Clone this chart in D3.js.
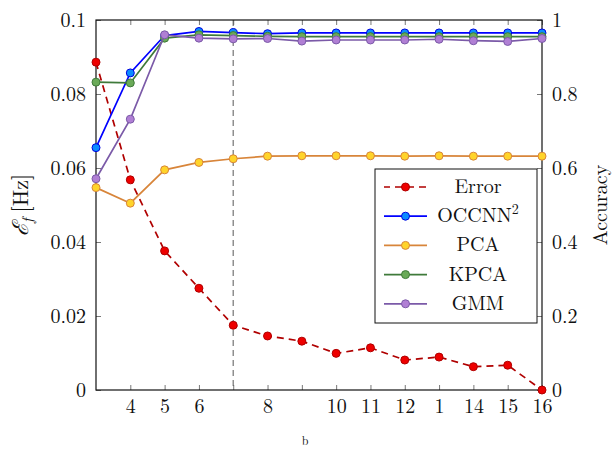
<!DOCTYPE html>
<html>
<head>
<meta charset="utf-8">
<script src="https://cdn.jsdelivr.net/npm/d3@7"></script>
<style>
  body { margin: 0; background: #fff; }
  text { font-family: "Latin Modern Roman", "Liberation Serif", "DejaVu Serif", serif; fill: #111; }
</style>
</head>
<body>
<svg id="chart"></svg>
<script>
const xs = [3, 4, 5, 6, 7, 8, 9, 10, 11, 12, 13, 14, 15, 16];
const xTickValues = [4, 5, 6, 7, 8, 9, 10, 11, 12, 13, 14, 15, 16];
const xTickLabels = ["4", "5", "6", "", "8", "", "10", "11", "12", "1", "14", "15", "16"];
const leftTicks = [0, 0.02, 0.04, 0.06, 0.08, 0.1];
const rightTicks = [0, 0.2, 0.4, 0.6, 0.8, 1];

const errorVals = [0.0886, 0.0568, 0.0376, 0.0275, 0.0175, 0.0146, 0.0132, 0.0099, 0.0114, 0.0081, 0.0089, 0.0063, 0.0067, 0];
const occnnVals = [0.655, 0.857, 0.958, 0.969, 0.966, 0.963, 0.965, 0.965, 0.965, 0.965, 0.965, 0.965, 0.965, 0.965];
const pcaVals = [0.547, 0.505, 0.595, 0.615, 0.625, 0.632, 0.633, 0.633, 0.633, 0.632, 0.633, 0.632, 0.632, 0.632];
const kpcaVals = [0.832, 0.830, 0.951, 0.960, 0.958, 0.956, 0.955, 0.955, 0.955, 0.955, 0.955, 0.955, 0.955, 0.955];
const gmmVals = [0.571, 0.732, 0.960, 0.951, 0.949, 0.950, 0.943, 0.946, 0.946, 0.946, 0.948, 0.944, 0.942, 0.950];
const markerX = 7;

const width = 615, height = 453;
const margin = { top: 20, right: 73, bottom: 63, left: 96 };
const w = width - margin.left - margin.right;
const h = height - margin.top - margin.bottom;

const svg = d3.select("#chart").attr("width", width).attr("height", height);
const g = svg.append("g").attr("transform", `translate(${margin.left},${margin.top})`);

const x = d3.scaleLinear().domain([3, 16]).range([0, w]);
const yL = d3.scaleLinear().domain([0, 0.1]).range([h, 0]);
const yR = d3.scaleLinear().domain([0, 1]).range([h, 0]);

// vertical dashed marker
g.append("line")
  .attr("x1", x(markerX)).attr("x2", x(markerX))
  .attr("y1", 0).attr("y2", h)
  .attr("stroke", "#888").attr("stroke-width", 1.4)
  .attr("stroke-dasharray", "6,4");

// axes (ticks inside, mirrored)
const tickStyle = sel => {
  sel.select(".domain").remove();
  sel.selectAll(".tick line").attr("stroke", "#555").attr("stroke-width", 0.8);
  sel.selectAll(".tick text").style("font-size", "20px").attr("fill", "#111");
};

g.append("g").attr("transform", `translate(0,${h})`)
  .call(d3.axisBottom(x).tickValues(xTickValues)
    .tickFormat((d, i) => xTickLabels[i]).tickSizeInner(-5).tickSizeOuter(0).tickPadding(9))
  .call(tickStyle);
g.append("g")
  .call(d3.axisTop(x).tickValues(xTickValues).tickFormat("").tickSizeInner(-5).tickSizeOuter(0))
  .call(tickStyle);
g.append("g")
  .call(d3.axisLeft(yL).tickValues(leftTicks).tickFormat(d => d === 0 ? "0" : d3.format("")(+d.toFixed(2)))
    .tickSizeInner(-5).tickSizeOuter(0).tickPadding(10))
  .call(tickStyle);
g.append("g").attr("transform", `translate(${w},0)`)
  .call(d3.axisRight(yR).tickValues(rightTicks).tickFormat(d => d === 0 ? "0" : d === 1 ? "1" : d3.format("")(+d.toFixed(1)))
    .tickSizeInner(-5).tickSizeOuter(0).tickPadding(10))
  .call(tickStyle);

// frame
g.append("rect").attr("width", w).attr("height", h)
  .attr("fill", "none").attr("stroke", "#111").attr("stroke-width", 1.2);

const series = [
  { name: "Error", vals: errorVals, y: yL, line: "#b00000", fill: "#ee0000", stroke: "#b00000", dash: "7,5" },
  { name: "OCCNN", vals: occnnVals, y: yR, line: "#0000ff", fill: "#0a8cff", stroke: "#0000e0", dash: null },
  { name: "PCA", vals: pcaVals, y: yR, line: "#d8853a", fill: "#ffd42a", stroke: "#d8853a", dash: null },
  { name: "KPCA", vals: kpcaVals, y: yR, line: "#3f7a3a", fill: "#6aaa58", stroke: "#3f7a3a", dash: null },
  { name: "GMM", vals: gmmVals, y: yR, line: "#7b5aa8", fill: "#b07fd4", stroke: "#7b5aa8", dash: null }
];

// draw in order so Error sits under, GMM on top
const drawOrder = [0, 2, 1, 3, 4];
drawOrder.forEach(k => {
  const s = series[k];
  const pts = xs.map((xv, i) => [xv, s.vals[i]]);
  g.append("path").datum(pts)
    .attr("fill", "none").attr("stroke", s.line).attr("stroke-width", 1.7)
    .attr("stroke-dasharray", s.dash)
    .attr("d", d3.line().x(d => x(d[0])).y(d => s.y(d[1])));
  g.append("g").selectAll("circle").data(pts).enter().append("circle")
    .attr("cx", d => x(d[0])).attr("cy", d => s.y(d[1])).attr("r", 4)
    .attr("fill", s.fill).attr("stroke", s.stroke).attr("stroke-width", 1);
});

// legend
const lg = svg.append("g").attr("transform", "translate(375,169)");
lg.append("rect").attr("width", 162).attr("height", 154)
  .attr("fill", "#fff").attr("stroke", "#111").attr("stroke-width", 1);
series.forEach((s, i) => {
  const yy = 18 + i * 29.2;
  lg.append("line").attr("x1", 9).attr("x2", 52).attr("y1", yy).attr("y2", yy)
    .attr("stroke", s.line).attr("stroke-width", 1.7).attr("stroke-dasharray", s.dash ? "7,5" : null)
    .attr("stroke-dashoffset", s.dash ? 1 : null);
  lg.append("circle").attr("cx", 30.5).attr("cy", yy).attr("r", 4)
    .attr("fill", s.fill).attr("stroke", s.stroke).attr("stroke-width", 1);
  const t = lg.append("text").attr("x", 103).attr("y", yy + 6)
    .attr("text-anchor", "middle").style("font-size", "20px");
  t.append("tspan").text(s.name);
  if (s.name === "OCCNN") t.append("tspan").attr("dy", -8).style("font-size", "14px").text("2");
});

// axis labels
const yl = svg.append("text")
  .attr("transform", "translate(28,205) rotate(-90)")
  .attr("text-anchor", "middle").style("font-size", "22px");
yl.append("tspan").style("font-style", "italic").text("ℰ");
yl.append("tspan").attr("dy", 5).style("font-size", "15px").style("font-style", "italic").text("f");
yl.append("tspan").attr("dy", -5).attr("dx", 6).text("[Hz]");

svg.append("text")
  .attr("transform", "translate(607,205) rotate(-90)")
  .attr("text-anchor", "middle").style("font-size", "20px").text("Accuracy");

svg.append("text").attr("x", 305).attr("y", 445)
  .attr("text-anchor", "middle").style("font-size", "12px").text("b");
</script>
</body>
</html>
